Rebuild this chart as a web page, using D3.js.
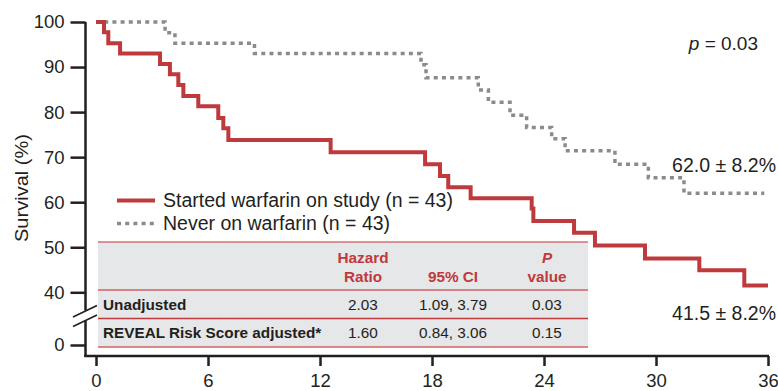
<!DOCTYPE html>
<html lang="en">
<head>
    <meta charset="UTF-8">
    <title>Survival</title>
    <script src="https://d3js.org/d3.v7.min.js"></script>
</head>
<style>
    html,body {
        margin: 0;
        padding: 0;
        background: #fff;
    }
    text {
        font-family: "Liberation Sans", Arial, sans-serif;
    }
</style>
<body>
    <div id="svg"></div>
</body>
<script>
    // months on study and survival (%) at each step
    const redTimes = [0, 0.43, 0.66, 1.29, 3.43, 3.96, 4.41, 4.68, 5.48, 6.55, 6.82, 7.09, 12.57, 17.63, 18.43, 18.87, 20.07, 23.34, 23.43, 25.61, 26.73, 29.41, 32.32, 34.73, 36];
    const redSurv = [100, 97.7, 95.3, 93.0, 90.7, 88.4, 86.0, 83.6, 81.3, 78.7, 76.4, 73.8, 71.1, 68.4, 65.8, 63.3, 60.9, 58.6, 55.8, 53.2, 50.4, 47.5, 44.9, 41.5, 41.5];
    const grayTimes = [0, 3.70, 4.23, 8.49, 17.41, 17.68, 20.48, 21.02, 22.18, 23.07, 24.41, 25.13, 27.80, 29.59, 31.50, 35.8];
    const graySurv = [100, 97.6, 95.3, 93.0, 90.5, 87.6, 84.9, 82.2, 79.3, 76.6, 74.1, 71.4, 68.4, 65.4, 62.0, 62.0];

    const xTicks = [0, 6, 12, 18, 24, 30, 36];
    const yTicks = [0, 40, 50, 60, 70, 80, 90, 100];

    const legendLabels = ['Started warfarin on study (n = 43)', 'Never on warfarin (n = 43)'];
    const tableHeaders = [['Hazard', 'Ratio'], ['', '95% CI'], ['P', 'value']];
    const rowLabels = ['Unadjusted', 'REVEAL Risk Score adjusted*'];
    const hazardRatios = ['2.03', '1.60'];
    const ci95 = ['1.09, 3.79', '0.84, 3.06'];
    const pValues = ['0.03', '0.15'];

    const width = 778;
    const height = 391;
    const red = '#bf3a3d';
    const gray = '#8b8b8d';
    const ink = '#231f20';
    const tickFont = 18.5;
    const tableFont = 15.3;

    const svg = d3.select('#svg').append('svg')
        .attr('width', width)
        .attr('height', height);

    const x = d3.scaleLinear().domain([0, 36]).range([96, 768]);
    // broken axis: 0 sits below the break, 40-100 linear
    const y = d3.scaleLinear().domain([0, 40, 100]).range([345, 292.3, 22]);

    // y axis
    const yAxis = svg.append('g')
        .attr('transform', 'translate(85.5,0)')
        .call(d3.axisLeft(y).tickValues(yTicks).tickSize(15).tickPadding(6));
    yAxis.select('.domain').remove();
    yAxis.selectAll('line').attr('stroke', ink).attr('stroke-width', 2.5);
    yAxis.selectAll('text').attr('font-size', tickFont).attr('fill', ink)
        .attr('font-family', '"Liberation Sans", Arial, sans-serif');

    // y axis line with gap for the break
    svg.append('path')
        .attr('d', `M85.5,${y(100)}V310.5M85.5,320.5V357`)
        .attr('stroke', ink).attr('stroke-width', 2.5).attr('fill', 'none');
    [0, 9.5].forEach(off => {
        svg.append('line')
            .attr('x1', 73).attr('y1', 317 + off)
            .attr('x2', 97).attr('y2', 305.5 + off)
            .attr('stroke', ink).attr('stroke-width', 1.6);
    });

    // x axis
    const xAxis = svg.append('g')
        .attr('transform', 'translate(0,356)')
        .call(d3.axisBottom(x).tickValues(xTicks).tickSize(10).tickPadding(8));
    xAxis.select('.domain').remove();
    xAxis.selectAll('line').attr('stroke', ink).attr('stroke-width', 2.5);
    xAxis.selectAll('text').attr('font-size', tickFont).attr('fill', ink)
        .attr('font-family', '"Liberation Sans", Arial, sans-serif');
    svg.append('line')
        .attr('x1', 84.3).attr('x2', x(36) + 1)
        .attr('y1', 356).attr('y2', 356)
        .attr('stroke', ink).attr('stroke-width', 2.5);

    svg.append('text')
        .attr('transform', 'translate(28,188) rotate(-90)')
        .attr('text-anchor', 'middle')
        .attr('font-size', 19)
        .attr('textLength', 108)
        .attr('lengthAdjust', 'spacingAndGlyphs')
        .attr('fill', ink)
        .text('Survival (%)');

    // table
    const tLeft = 98, tRight = 588;
    const colX = [363, 453, 547];
    svg.append('rect')
        .attr('x', tLeft).attr('y', 242)
        .attr('width', tRight - tLeft).attr('height', 105)
        .attr('fill', '#e6e7e8');
    [[242, '#d47274'], [290, '#cf6265'], [318.5, red], [347, '#d06366']].forEach(([yy, c]) => {
        svg.append('line')
            .attr('x1', tLeft).attr('x2', tRight)
            .attr('y1', yy).attr('y2', yy)
            .attr('stroke', c).attr('stroke-width', 1.6);
    });
    tableHeaders.forEach((h, i) => {
        h.forEach((t, j) => {
            svg.append('text')
                .attr('x', colX[i]).attr('y', 258 + j * 19)
                .attr('dy', '0.35em')
                .attr('text-anchor', 'middle')
                .attr('font-size', tableFont)
                .attr('font-weight', 'bold')
                .attr('font-style', t === 'P' ? 'italic' : 'normal')
                .attr('fill', red)
                .text(t);
        });
    });
    rowLabels.forEach((lab, i) => {
        const yy = 304.5 + i * 28;
        svg.append('text')
            .attr('x', 103).attr('y', yy).attr('dy', '0.35em')
            .attr('font-size', tableFont).attr('font-weight', 'bold').attr('fill', ink)
            .text(lab);
        [hazardRatios[i], ci95[i], pValues[i]].forEach((v, k) => {
            svg.append('text')
                .attr('x', colX[k]).attr('y', yy).attr('dy', '0.35em')
                .attr('text-anchor', 'middle')
                .attr('font-size', tableFont).attr('fill', ink)
                .text(v);
        });
    });

    // curves
    const line = d3.line()
        .x(d => x(d[0]))
        .y(d => y(d[1]))
        .curve(d3.curveStepAfter);

    svg.append('path')
        .attr('d', line(d3.zip(grayTimes, graySurv)))
        .attr('fill', 'none')
        .attr('stroke', gray)
        .attr('stroke-width', 3.5)
        .attr('stroke-dasharray', '4,4.2');

    svg.append('path')
        .attr('d', line(d3.zip(redTimes, redSurv)))
        .attr('fill', 'none')
        .attr('stroke', red)
        .attr('stroke-width', 4)
        .attr('stroke-linejoin', 'miter');

    // legend
    legendLabels.forEach((lab, i) => {
        const yy = 200.5 + i * 23;
        svg.append('line')
            .attr('x1', 117).attr('x2', 155)
            .attr('y1', yy).attr('y2', yy)
            .attr('stroke', i === 0 ? red : gray)
            .attr('stroke-width', i === 0 ? 4 : 3.5)
            .attr('stroke-dasharray', i === 0 ? null : '4,4.2');
        svg.append('text')
            .attr('x', 163).attr('y', yy).attr('dy', '0.35em')
            .attr('font-size', 19.5).attr('fill', ink)
            .text(lab);
    });

    // annotations
    const pText = svg.append('text')
        .attr('x', 758).attr('y', 43).attr('dy', '0.35em')
        .attr('text-anchor', 'end')
        .attr('font-size', 19).attr('fill', ink);
    pText.append('tspan').attr('font-style', 'italic').text('p');
    pText.append('tspan').text(' = 0.03');

    svg.append('text')
        .attr('x', 776).attr('y', 165).attr('dy', '0.35em')
        .attr('text-anchor', 'end')
        .attr('font-size', 19.5).attr('fill', ink)
        .text('62.0 ± 8.2%');
    svg.append('text')
        .attr('x', 776).attr('y', 313).attr('dy', '0.35em')
        .attr('text-anchor', 'end')
        .attr('font-size', 19.5).attr('fill', ink)
        .text('41.5 ± 8.2%');
</script>
</html>
